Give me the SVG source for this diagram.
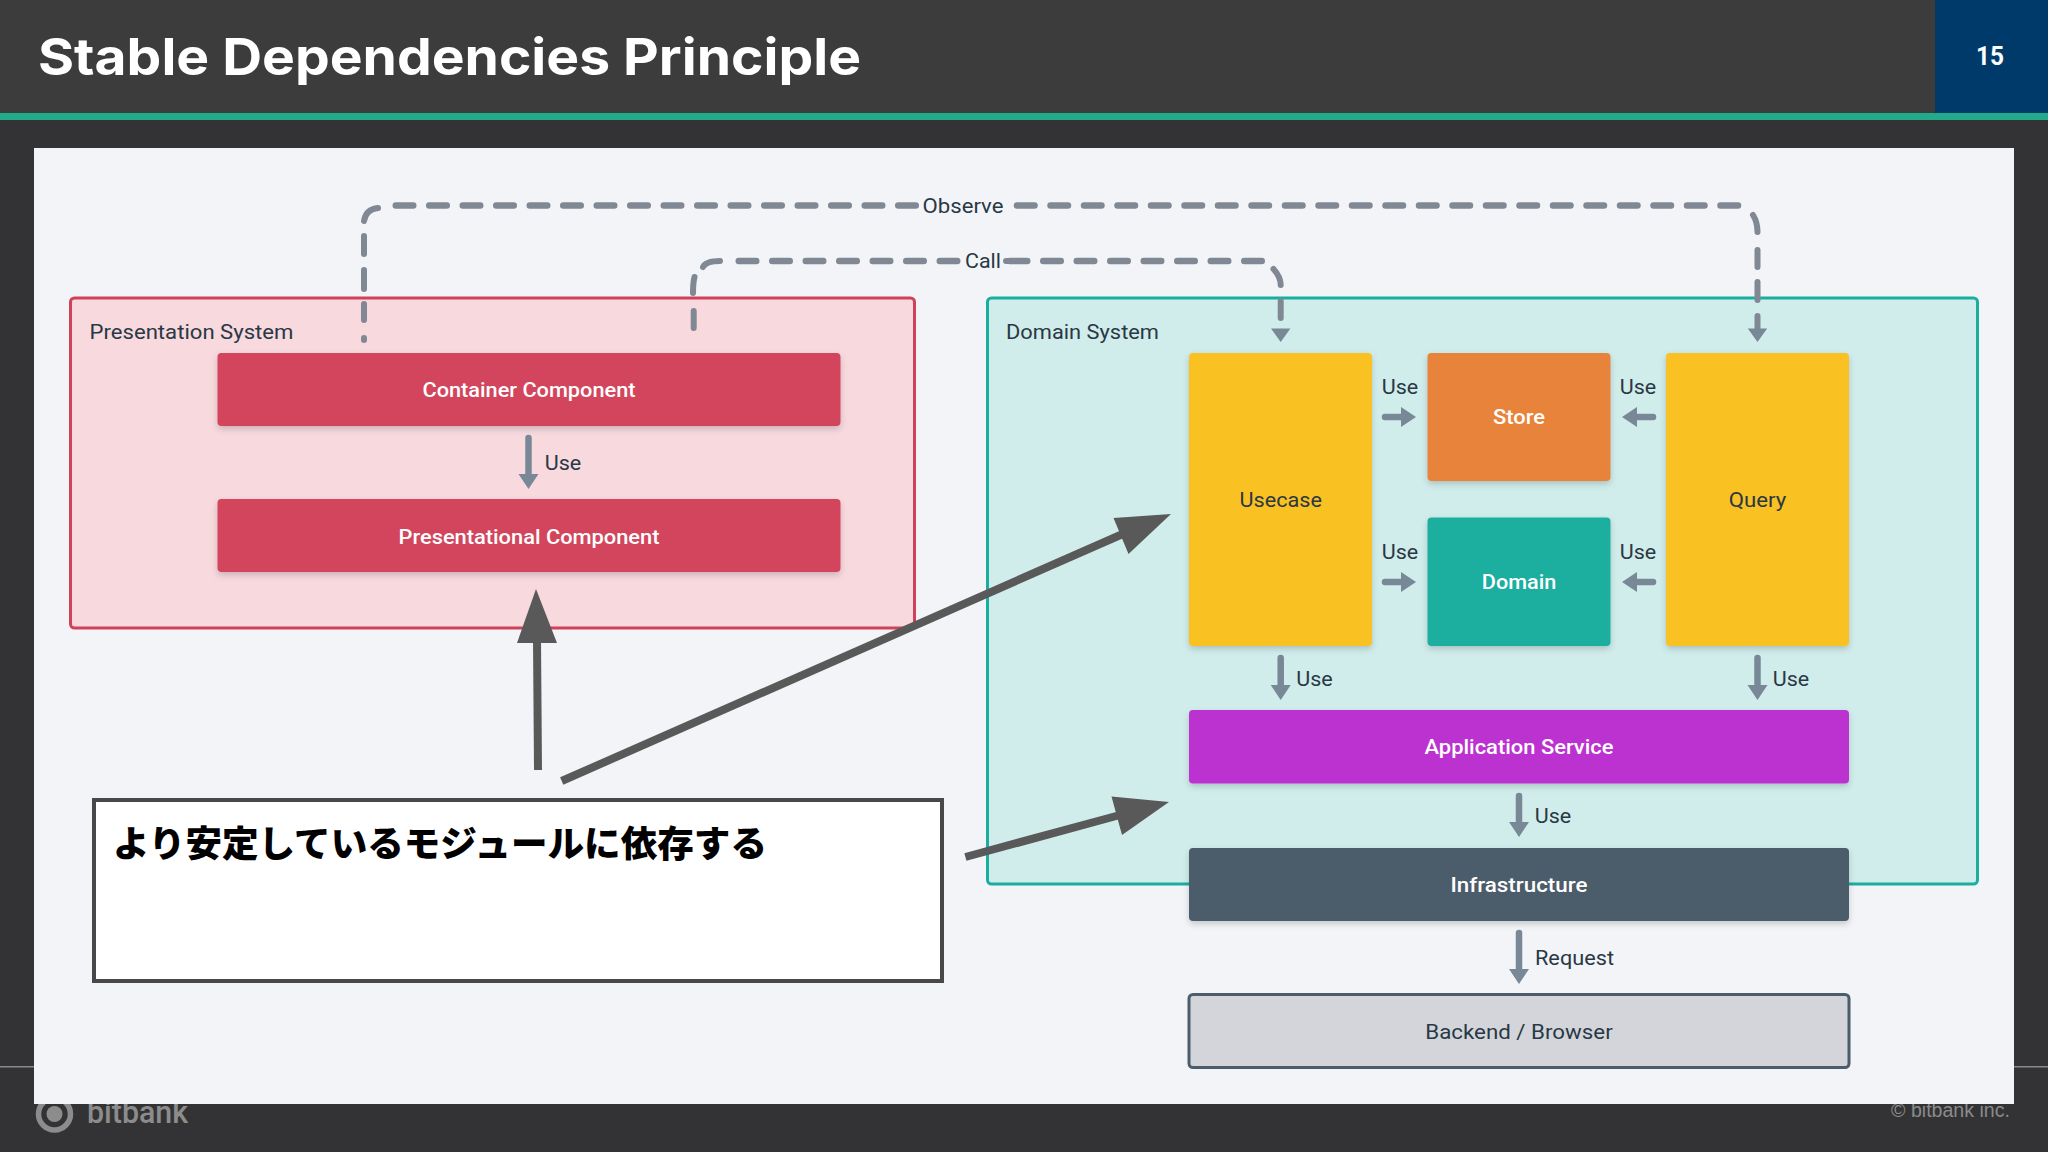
<svg xmlns="http://www.w3.org/2000/svg" width="2048" height="1152" viewBox="0 0 2048 1152">
<style>
text{font-family:Roboto,"Liberation Sans",sans-serif;font-size:21px;fill:#293845;text-anchor:middle}
.w{fill:#fff;font-weight:500}
.lab{text-anchor:start}
.dash{fill:none;stroke:#808894;stroke-width:6.5;stroke-linecap:round;stroke-dasharray:17.5 16}
.dv{fill:none;stroke:#808894;stroke-width:6;stroke-linecap:round}
.sol{fill:none;stroke:#788896;stroke-width:6.5;stroke-linecap:round}
.big{fill:none;stroke:#595959;stroke-width:8}
.bh{fill:#595959}
</style>
<defs>
<filter id="sh" x="-5%" y="-10%" width="110%" height="125%"><feDropShadow dx="0" dy="3" stdDeviation="3" flood-color="#000" flood-opacity=".18"/></filter>
<marker id="ah" markerUnits="userSpaceOnUse" markerWidth="16" markerHeight="22" viewBox="0 0 16 22" refX="1" refY="11" orient="auto"><path d="M0,1 L15,11 L0,21Z" fill="#788896"/></marker>
</defs>
<rect width="2048" height="1152" fill="#333335"/>
<rect width="2048" height="113" fill="#3c3c3c"/>
<rect x="1935" width="113" height="113" fill="#003a6b"/>
<rect y="113" width="2048" height="7" fill="#22ab8b"/>
<rect y="1066" width="2048" height="1.5" fill="#8a8a8a"/>
<text id="title" x="38" y="75" class="w" style="text-anchor:start;font-family:Inter,sans-serif;font-size:51px;font-weight:700" textLength="823" lengthAdjust="spacingAndGlyphs">Stable Dependencies Principle</text>
<text x="1990" y="65" class="w" style="font-weight:700;font-size:25px" textLength="28" lengthAdjust="spacingAndGlyphs">15</text>
<g id="footer">
<circle cx="54.5" cy="1114" r="16" fill="none" stroke="#8c8c8c" stroke-width="5.5"/>
<circle cx="54.5" cy="1114" r="8" fill="#8c8c8c"/>
<text x="87" y="1123" style="text-anchor:start;fill:#8c8c8c;font-size:32px;font-weight:500" textLength="101" lengthAdjust="spacingAndGlyphs">bitbank</text>
<text x="1891" y="1117" style="text-anchor:start;fill:#8a8a8a;font-family:'Liberation Sans',sans-serif;font-size:20px" textLength="119" lengthAdjust="spacingAndGlyphs">© bitbank inc.</text>
</g>
<rect x="34" y="148" width="1980" height="956" fill="#f2f4f8"/>

<g id="presentation-system">
<rect x="70.5" y="298" width="844" height="330" rx="4" fill="#f7d9de" stroke="#d1415a" stroke-width="3"/>
<text class="lab" x="89.5" y="338.5" textLength="204" lengthAdjust="spacingAndGlyphs">Presentation System</text>
</g>
<g id="domain-system">
<rect x="987.5" y="298" width="990" height="586" rx="4" fill="#d0edeb" stroke="#1aae9f" stroke-width="3"/>
<text class="lab" x="1006" y="338.5" textLength="153" lengthAdjust="spacingAndGlyphs">Domain System</text>
</g>
<g id="container-component">
<rect x="217.5" y="353" width="623" height="73" rx="4" fill="#d3455b" filter="url(#sh)"/>
<text class="w" x="529" y="397" textLength="213" lengthAdjust="spacingAndGlyphs">Container Component</text>
</g>
<g id="presentational-component">
<rect x="217.5" y="499" width="623" height="73" rx="4" fill="#d3455b" filter="url(#sh)"/>
<text class="w" x="529" y="543.5" textLength="261" lengthAdjust="spacingAndGlyphs">Presentational Component</text>
</g>
<g id="usecase">
<rect x="1189" y="353" width="183" height="293" rx="4" fill="#f9c121" filter="url(#sh)"/>
<text x="1280.7" y="507" textLength="82.5" lengthAdjust="spacingAndGlyphs">Usecase</text>
</g>
<g id="store">
<rect x="1427.5" y="353" width="183" height="128" rx="4" fill="#e8833a" filter="url(#sh)"/>
<text class="w" x="1519" y="424" textLength="52" lengthAdjust="spacingAndGlyphs">Store</text>
</g>
<g id="domain">
<rect x="1427.5" y="517.5" width="183" height="128.5" rx="4" fill="#1aae9f" filter="url(#sh)"/>
<text class="w" x="1519" y="589" textLength="74.5" lengthAdjust="spacingAndGlyphs">Domain</text>
</g>
<g id="query">
<rect x="1666" y="353" width="183" height="293" rx="4" fill="#f9c121" filter="url(#sh)"/>
<text x="1757.5" y="507" textLength="57.5" lengthAdjust="spacingAndGlyphs">Query</text>
</g>
<g id="application-service">
<rect x="1189" y="710" width="660" height="73.5" rx="4" fill="#bc30d0" filter="url(#sh)"/>
<text class="w" x="1519" y="754" textLength="189" lengthAdjust="spacingAndGlyphs">Application Service</text>
</g>
<g id="infrastructure">
<rect x="1189" y="848" width="660" height="73" rx="4" fill="#4b5c6b" filter="url(#sh)"/>
<text class="w" x="1519" y="892" textLength="137" lengthAdjust="spacingAndGlyphs">Infrastructure</text>
</g>
<g id="backend-browser">
<rect x="1189" y="994.5" width="660" height="73" rx="4" fill="#d3d5da" stroke="#4b5c6b" stroke-width="3"/>
<text x="1519" y="1039" textLength="187.5" lengthAdjust="spacingAndGlyphs">Backend / Browser</text>
</g>
<g id="note">
<rect x="94" y="800" width="848" height="181" fill="#fff" stroke="#484848" stroke-width="4"/>
<text x="113" y="857" style="text-anchor:start;font-family:'Noto Sans CJK JP',sans-serif;font-size:36px;font-weight:900;fill:#000" textLength="654" lengthAdjust="spacingAndGlyphs">より安定しているモジュールに依存する</text>
</g>

<g id="connectors">
<path class="dash" d="M915.75,205.5 H393"/>
<path class="dash" d="M1017,205.5 H1740"/>
<path class="dash" d="M957.25,261 H735"/>
<path class="dash" d="M1009.75,261 H1262"/>
<path class="dv" d="M1006,261 H1024"/>
<path class="dv" d="M378,208 Q366,209 364,221 M364,236 V254 M364,270 V289 M364,304 V320 M364,338 V340"/>
<path class="dv" d="M1753,215 Q1757.5,222 1757.5,232 M1757.5,250 V267 M1757.5,282 V300 M1757.5,316 V332"/>
<path class="dv" d="M720,261 Q706,261 703,267 M693,293 Q693,283 694.5,277 M693.7,311 V328"/>
<path class="dv" d="M1273.5,269 Q1280.7,277 1280.7,285 M1280.7,301 V318"/>
<path d="M1280.7,342 L1271,328.5 H1290.4Z M1757.5,342 L1747.8,328.5 H1767.2Z" fill="#788896"/>
<line class="sol" x1="528.5" y1="438" x2="528.5" y2="475" marker-end="url(#ah)"/>
<line class="sol" x1="1385" y1="417" x2="1402" y2="417" marker-end="url(#ah)"/>
<line class="sol" x1="1653" y1="417" x2="1636" y2="417" marker-end="url(#ah)"/>
<line class="sol" x1="1385" y1="582" x2="1402" y2="582" marker-end="url(#ah)"/>
<line class="sol" x1="1653" y1="582" x2="1636" y2="582" marker-end="url(#ah)"/>
<line class="sol" x1="1280.7" y1="658" x2="1280.7" y2="686" marker-end="url(#ah)"/>
<line class="sol" x1="1757.5" y1="658" x2="1757.5" y2="686" marker-end="url(#ah)"/>
<line class="sol" x1="1519" y1="796" x2="1519" y2="823" marker-end="url(#ah)"/>
<line class="sol" x1="1519" y1="933" x2="1519" y2="970" marker-end="url(#ah)"/>
<line class="big" x1="538" y1="770" x2="537" y2="640"/>
<polygon class="bh" points="536,589 557,643 517,643"/>
<line class="big" x1="561.7" y1="781" x2="1125" y2="533"/>
<polygon class="bh" points="1171,514 1113.5,518 1128.5,554"/>
<line class="big" x1="965.4" y1="857" x2="1120" y2="815"/>
<polygon class="bh" points="1169,802 1111.5,796.5 1122,835"/>
</g>
<g id="connector-labels">
<text x="963" y="213" textLength="81" lengthAdjust="spacingAndGlyphs">Observe</text>
<text x="983" y="268" textLength="36" lengthAdjust="spacingAndGlyphs">Call</text>
<text x="563" y="470" textLength="36.5" lengthAdjust="spacingAndGlyphs">Use</text>
<text x="1400" y="393.5" textLength="36.5" lengthAdjust="spacingAndGlyphs">Use</text>
<text x="1638" y="393.5" textLength="36.5" lengthAdjust="spacingAndGlyphs">Use</text>
<text x="1400" y="558.5" textLength="36.5" lengthAdjust="spacingAndGlyphs">Use</text>
<text x="1638" y="558.5" textLength="36.5" lengthAdjust="spacingAndGlyphs">Use</text>
<text x="1314.5" y="685.5" textLength="36.5" lengthAdjust="spacingAndGlyphs">Use</text>
<text x="1791" y="685.5" textLength="36.5" lengthAdjust="spacingAndGlyphs">Use</text>
<text x="1553" y="822.5" textLength="36.5" lengthAdjust="spacingAndGlyphs">Use</text>
<text x="1574.5" y="965" textLength="79" lengthAdjust="spacingAndGlyphs">Request</text>
</g>
</svg>
